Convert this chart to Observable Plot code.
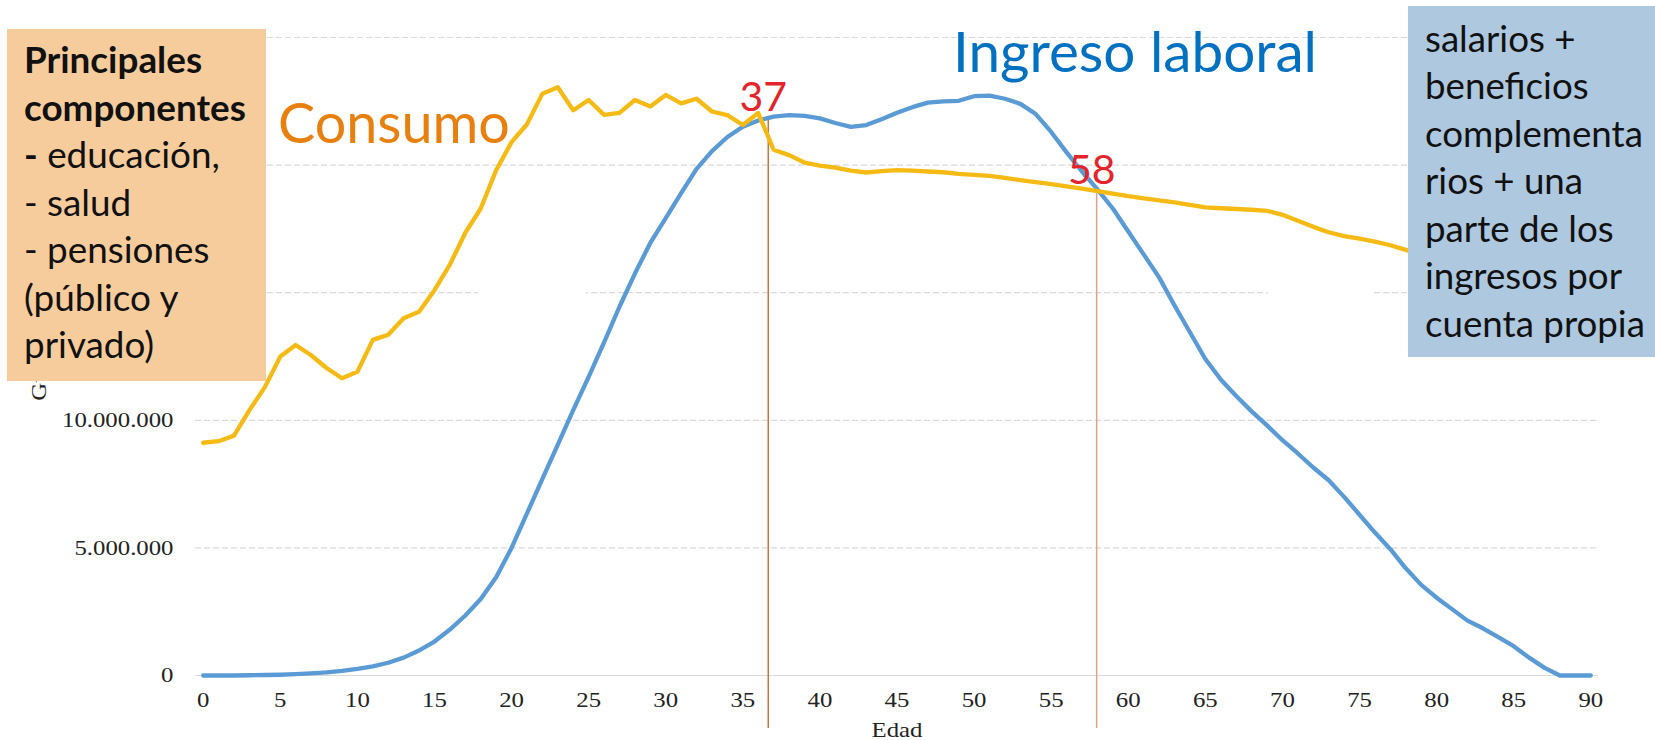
<!DOCTYPE html>
<html><head><meta charset="utf-8">
<script src="https://cdn.jsdelivr.net/npm/d3@7"></script>
<script src="https://cdn.jsdelivr.net/npm/@observablehq/plot@0.6"></script>
<style>
html,body{margin:0;padding:0;background:#fff;}
#chart{position:relative;width:1655px;height:740px;overflow:hidden;}
</style></head><body><div id="chart"></div>
<script>
// ---- data (values in millions) ----
const edad = [0,1,2,3,4,5,6,7,8,9,10,11,12,13,14,15,16,17,18,19,20,21,22,23,24,25,26,27,28,29,30,31,32,33,34,35,36,37,38,39,40,41,42,43,44,45,46,47,48,49,50,51,52,53,54,55,56,57,58,59,60,61,62,63,64,65,66,67,68,69,70,71,72,73,74,75,76,77,78,79,80,81,82,83,84,85,86,87,88,89,90];
const consumo = [9.12,9.18,9.40,10.4,11.3,12.5,12.95,12.55,12.05,11.65,
  11.9,13.15,13.35,14.0,14.25,15.1,16.1,17.35,18.3,19.8,
  20.9,21.6,22.8,23.05,22.15,22.55,21.97,22.05,22.55,22.3,
  22.75,22.42,22.6,22.1,21.96,21.57,22.04,20.6,20.39,20.1,
  19.98,19.9,19.78,19.71,19.76,19.8,19.78,19.75,19.72,19.66,
  19.62,19.58,19.5,19.41,19.33,19.25,19.17,19.08,18.98,18.88,
  18.78,18.7,18.62,18.54,18.44,18.34,18.31,18.28,18.25,18.21,
  18.05,17.82,17.58,17.37,17.22,17.12,17.0,16.86,16.68,16.5];
const ingresoLaboral = [0,0,0,0.01,0.02,0.03,0.05,0.08,0.12,0.18,
  0.26,0.36,0.5,0.7,0.98,1.33,1.8,2.35,3.0,3.85,
  5.0,6.35,7.7,9.05,10.4,11.7,13.05,14.45,15.75,16.95,
  17.92,18.9,19.85,20.55,21.1,21.5,21.75,21.9,21.96,21.93,
  21.83,21.65,21.5,21.57,21.8,22.05,22.27,22.45,22.5,22.52,
  22.7,22.72,22.6,22.4,22.0,21.3,20.5,19.75,19.05,18.3,
  17.4,16.5,15.6,14.5,13.45,12.4,11.6,10.95,10.35,9.8,
  9.22,8.7,8.15,7.65,7.0,6.3,5.6,4.95,4.2,3.55,
  3.05,2.6,2.15,1.85,1.5,1.15,0.7,0.3,0,0,0];
const cruceEdad = [36.65, 57.95];
const cruceValor = [21.85, 19.0];
const cruceEtiqueta = ["37", "58"];
const cruceColor = ["#C8773F", "#E3A08C"];
const xTicks = [0,5,10,15,20,25,30,35,40,45,50,55,60,65,70,75,80,85,90];
const yTicks = [0,5,10,15,20,25];          // grid lines
const yTickLabels = [0,5,10];              // labels left visible beside the box
const cajaConsumo = ["Principales", "componentes", "- educación,", "- salud", "- pensiones", "(público y", "privado)"];
const cajaIngreso = ["salarios +", "beneficios", "complementa", "rios + una", "parte de los", "ingresos por", "cuenta propia"];

// ---- tables built from arrays ----
const consumoData = consumo.map((v, i) => ({edad: edad[i], valor: v}));
const ingresoData = ingresoLaboral.map((v, i) => ({edad: edad[i], valor: v}));
const cruces = cruceEdad.map((e, i) => ({edad: e, valor: cruceValor[i], etiqueta: cruceEtiqueta[i], color: cruceColor[i]}));

const fmt = d => d3.format(",")(Math.round(d * 1e6)).replace(/,/g, ".");

const chart = Plot.plot({
  width: 1655, height: 740,
  marginLeft: 195, marginRight: 57, marginTop: 37, marginBottom: 65,
  style: {background: "transparent", fontFamily: "'Liberation Serif', 'Times New Roman', serif", fontSize: "21px", color: "#222"},
  x: {domain: [-0.5, 90.5], ticks: xTicks, tickSize: 0, tickPadding: 17, tickFormat: d => String(d), label: "Edad", labelAnchor: "center", labelOffset: 61, labelArrow: "none"},
  y: {domain: [0, 25], ticks: yTickLabels, tickSize: 0, tickPadding: 22, tickFormat: fmt, label: "Guaraníes", labelAnchor: "center", labelOffset: 164, labelArrow: "none"},
  marks: [
    Plot.ruleY(yTicks.filter(d => d > 0), {stroke: "#d9d9d9", strokeWidth: 1.2, strokeDasharray: "6,3"}),
    Plot.ruleY([0], {stroke: "#d9d9d9", strokeWidth: 1.2}),
    Plot.ruleX(cruces, {x: "edad", y1: "valor", y2: 0, stroke: "color", strokeWidth: 1.5, insetBottom: -53}),
    Plot.line(ingresoData, {x: "edad", y: "valor", stroke: "#5B9BD5", strokeWidth: 4.3, strokeLinejoin: "round", strokeLinecap: "round"}),
    Plot.line(consumoData, {x: "edad", y: "valor", stroke: "#F5BA14", strokeWidth: 4.3, strokeLinejoin: "round", strokeLinecap: "round"}),
    Plot.text(cruces, {x: "edad", y: "valor", text: "etiqueta", dx: -5, dy: -7, lineAnchor: "bottom", fill: "#E3242B", fontSize: 41, fontFamily: "Lato, 'Open Sans', sans-serif"})
  ]
});
document.getElementById("chart").appendChild(chart);

const svg = d3.select(chart);

// horizontally stretched axis type, as in the original picture
svg.selectAll("g[aria-label$='tick label'] text, g[aria-label$='label'] text").each(function () {
  const w = this.getComputedTextLength();
  if (w > 0) { this.setAttribute("textLength", (w * 1.18).toFixed(1)); this.setAttribute("lengthAdjust", "spacingAndGlyphs"); }
});
svg.selectAll("g[aria-label='y-axis label'] text").attr("dx", 6);

// ---- overlay annotations (boxes and big labels) ----
const ov = svg.append("g").attr("font-family", "Lato, 'Open Sans', sans-serif").attr("text-anchor", "start");

function fit(nodes, ref, target) {
  const w = ref.getComputedTextLength();
  const base = parseFloat(ref.getAttribute("font-size"));
  const size = base * target / w;
  nodes.forEach(n => n.setAttribute("font-size", size.toFixed(2)));
}

// white patches of the pasted slide that hide parts of one grid line
ov.append("rect").attr("x", 478).attr("y", 286).attr("width", 108).attr("height", 12).attr("fill", "#fff");
ov.append("rect").attr("x", 1268).attr("y", 286).attr("width", 106).attr("height", 12).attr("fill", "#fff");

// orange box
ov.append("rect").attr("x", 7).attr("y", 29).attr("width", 259).attr("height", 352).attr("fill", "#F7CC9C");
const tC = cajaConsumo.map((s, i) => {
  const t = ov.append("text").attr("x", 24).attr("y", 73 + i * 47.5).attr("font-size", 36).attr("fill", "#111");
  if (i < 2) t.attr("font-weight", "bold").text(s);
  else if (s.startsWith("- ")) {
    t.append("tspan").attr("font-weight", i === 2 ? "bold" : "normal").text("-");
    t.append("tspan").text(s.slice(1));
  } else t.text(s);
  return t.node();
});
fit(tC, tC[1], 222);

// blue box
ov.append("rect").attr("x", 1408).attr("y", 6).attr("width", 247).attr("height", 351).attr("fill", "#ADC8DF");
const tI = cajaIngreso.map((s, i) => ov.append("text").attr("x", 1425).attr("y", 51.7 + i * 47.5)
  .attr("font-size", 36).attr("fill", "#111").text(s).node());
fit(tI, tI[6], 220);

// series labels
const lc = ov.append("text").attr("x", 278).attr("y", 143).attr("font-size", 56).attr("fill", "#E8800F").text("Consumo").node();
fit([lc], lc, 232);
const li = ov.append("text").attr("x", 953).attr("y", 72).attr("font-size", 56).attr("fill", "#0070C0").text("Ingreso laboral").node();
fit([li], li, 364);
</script>
</body></html>
